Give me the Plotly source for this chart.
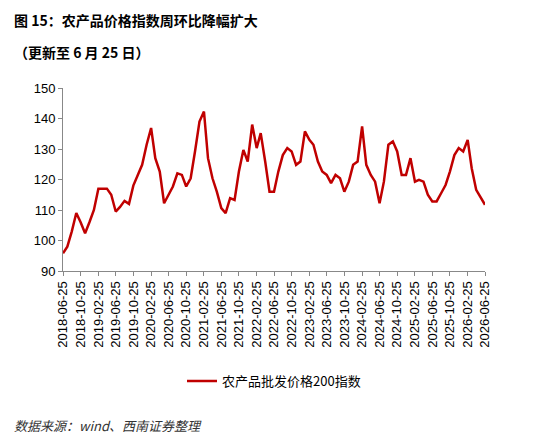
import pandas as pd
import plotly.graph_objects as go

# 农产品批发价格200指数（按月读图）
dates = pd.date_range('2018-06-25', periods=97, freq=pd.DateOffset(months=1))
values = [95.8, 98, 103, 109, 106, 102.4, 106, 110, 117, 117, 117, 115,
          109.5, 111, 113, 112, 118, 121.5, 124.8, 131.4, 136.9, 127, 122.6, 112.2,
          115, 117.7, 122, 121.5, 117.7, 120.4, 129.2, 139, 142.3, 127, 120.4, 116,
          110.6, 109, 113.9, 113.3, 122.6, 129.7, 125.9, 138, 130.3, 135.2, 125.9, 116,
          116, 122.6, 128, 130.3, 129.2, 124.8, 125.9, 135.8, 133, 131.4, 125.9, 122.6,
          121.5, 118.8, 121.5, 120.4, 116, 119.3, 124.8, 125.9, 137.4, 124.8, 121.5, 119.3,
          112.2, 119.3, 131.4, 132.5, 129.2, 121.5, 121.5, 127, 119.3, 119.9, 119.3, 115,
          112.8, 112.8, 115.5, 118.2, 122.6, 128, 130.3, 129.2, 133, 123.7, 116.6, 114.4,
          111.7]
tickdates = dates[::4]
ticklabels = [d.strftime('%Y-%m-%d') for d in tickdates]

font = 'Noto Sans CJK SC'
fig = go.Figure()
fig.add_trace(go.Scatter(x=dates, y=values, mode='lines', name='农产品批发价格200指数',
                         line=dict(color='#C00000', width=2.5)))

fig.update_layout(
    width=542, height=434,
    margin=dict(l=55, r=65, t=80, b=171, autoexpand=False),
    plot_bgcolor='white', paper_bgcolor='white',
    font=dict(family=font, size=13, color='#000'),
    showlegend=True,
    legend=dict(orientation='h', x=0.5, xanchor='center', y=-0.52, yanchor='top',
                font=dict(size=13)),
)
fig.update_xaxes(tickvals=tickdates, ticktext=ticklabels, tickangle=-90,
                 range=[dates[0], dates[-1]], showline=True, linecolor='#888',
                 ticks='outside', tickcolor='#888', ticklen=4, showgrid=False,
                 automargin=False, tickfont=dict(size=13, family='Liberation Sans'))
fig.update_yaxes(range=[90, 150], dtick=10, showline=True, linecolor='#888',
                 ticks='outside', tickcolor='#888', ticklen=4, showgrid=False,
                 automargin=False, tickfont=dict(size=13, family='Liberation Sans'))

fig.add_annotation(text='<b>图 15：农产品价格指数周环比降幅扩大</b>', xref='paper', yref='paper',
                   x=-0.12, y=1.0, xanchor='left', yanchor='bottom', yshift=56,
                   showarrow=False, font=dict(size=14))
fig.add_annotation(text='<b>（更新至 6 月 25 日）</b>', xref='paper', yref='paper',
                   x=-0.12, y=1.0, xanchor='left', yanchor='bottom', yshift=24,
                   showarrow=False, font=dict(size=14))
fig.add_annotation(text='<i>数据来源：wind、西南证券整理</i>', xref='paper', yref='paper',
                   x=-0.12, y=0, xanchor='left', yanchor='top', yshift=-143,
                   showarrow=False, font=dict(size=13, color='#333'))

fig.write_html("out.html")
